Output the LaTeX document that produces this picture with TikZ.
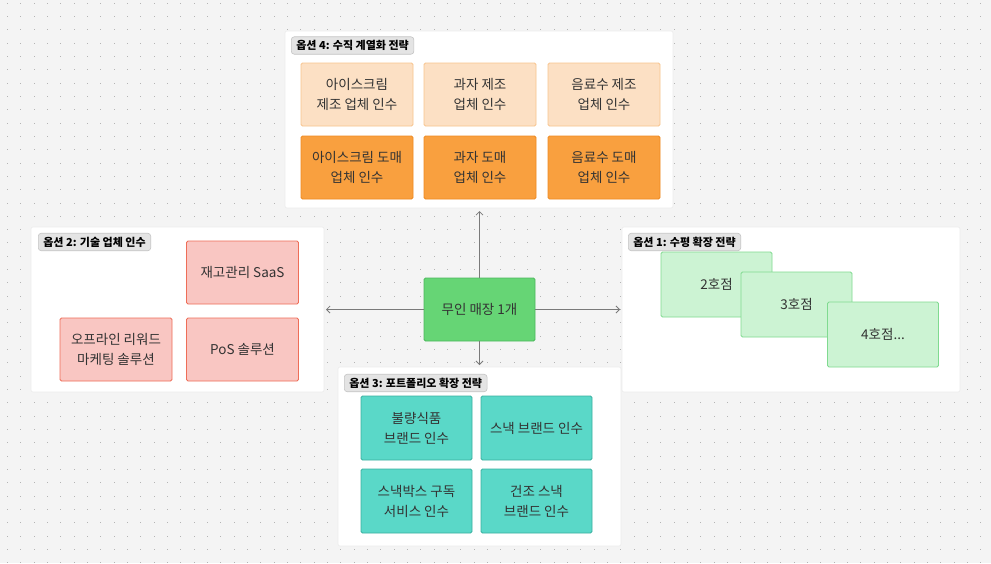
\documentclass[tikz,border=0pt]{standalone}
\usepackage{fontspec}
\setmainfont{Noto Sans CJK KR}
\usetikzlibrary{arrows.meta}
\definecolor{bg}{HTML}{F4F4F4}
\definecolor{dotc}{HTML}{B4B4B4}
\definecolor{panelb}{HTML}{ECECEC}
\definecolor{txt}{HTML}{333333}
\definecolor{chipf}{HTML}{E4E4E4}
\definecolor{chipd}{HTML}{C4C4C4}
\definecolor{lof}{HTML}{FCE0C4}
\definecolor{lod}{HTML}{F8C48E}
\definecolor{dof}{HTML}{F9A03F}
\definecolor{dod}{HTML}{EE8A22}
\definecolor{pkf}{HTML}{F9C6C2}
\definecolor{pkd}{HTML}{EE6E58}
\definecolor{lgf}{HTML}{CCF3D3}
\definecolor{lgd}{HTML}{80DA90}
\definecolor{cgf}{HTML}{66D575}
\definecolor{cgd}{HTML}{4CB85C}
\definecolor{tlf}{HTML}{5AD8C8}
\definecolor{tld}{HTML}{3AB0A0}
\definecolor{arr}{HTML}{7A7A7A}
\tikzset{
  panel/.style={fill=white, draw=panelb, line width=0.6pt, rounded corners=2pt},
  chip/.style={fill=chipf, draw=chipd, line width=0.6pt, rounded corners=3pt, inner xsep=5pt, inner ysep=0pt, minimum height=17.5pt, anchor=west, font=\fontsize{11}{12}\selectfont\bfseries, text=black},
  box/.style={rounded corners=1.5pt, line width=0.8pt, minimum width=112pt, minimum height=63pt, align=center, inner sep=0pt, text=txt, font=\fontsize{13.5}{20}\selectfont},
  lo/.style={box, fill=lof, draw=lod},
  do/.style={box, fill=dof, draw=dod},
  pk/.style={box, fill=pkf, draw=pkd},
  lg/.style={box, fill=lgf, draw=lgd, minimum width=111pt, minimum height=65pt},
  cg/.style={box, fill=cgf, draw=cgd, minimum width=111pt},
  tl/.style={box, fill=tlf, draw=tld, minimum width=111pt, minimum height=64pt},
  conn/.style={draw=arr, line width=0.8pt, -{Straight Barb[length=3.5pt,width=7pt]}}
}
\begin{document}
\begin{tikzpicture}[x=1pt,y=-1pt]
\useasboundingbox (0,0) rectangle (991,563);
\fill[bg] (0,0) rectangle (991,563);
\foreach \i in {0,...,74}{
  \foreach \j in {0,...,42}{
    \fill[dotc] ({7+\i*13.333},{2.5+\j*13.333}) rectangle +(1,1);
  }
}
% panels
\draw[panel] (285,31) rectangle (673,208);
\draw[panel] (31,227) rectangle (324,392);
\draw[panel] (622,227) rectangle (960,392);
\draw[panel] (338,367) rectangle (621,546);
% chips
\node[chip] (c4) at (291,45.5) {옵션 4: 수직 계열화 전략};
\node[chip] (c2) at (38,242) {옵션 2: 기술 업체 인수};
\node[chip] (c1) at (628,242) {옵션 1: 수평 확장 전략};
\node[chip] (c3) at (344,383) {옵션 3: 포트폴리오 확장 전략};
% option 4
\node[lo] (a1) at (357,94.5) {아이스크림\\제조 업체 인수};
\node[lo] (a2) at (480,94.5) {과자 제조\\업체 인수};
\node[lo] (a3) at (604,94.5) {음료수 제조\\업체 인수};
\node[do] (b1) at (357,167.5) {아이스크림 도매\\업체 인수};
\node[do] (b2) at (480,167.5) {과자 도매\\업체 인수};
\node[do] (b3) at (604,167.5) {음료수 도매\\업체 인수};
% option 2
\node[pk] (t1) at (242.5,272.5) {재고관리 SaaS};
\node[pk] (t2) at (116,349.5) {오프라인 리워드\\마케팅 솔루션};
\node[pk] (t3) at (242.5,349.5) {PoS 솔루션};
% option 1
\node[lg] (h2) at (716.5,284.5) {2호점};
\node[lg] (h3) at (796.5,304.5) {3호점};
\node[lg] (h4) at (883,334.5) {4호점...};
% option 3
\node[tl] (p1) at (416.5,428) {불량식품\\브랜드 인수};
\node[tl] (p2) at (536.5,428) {스낵 브랜드 인수};
\node[tl] (p3) at (416.5,501) {스낵박스 구독\\서비스 인수};
\node[tl] (p4) at (536.5,501) {건조 스낵\\브랜드 인수};
% center
\node[cg] (m) at (479.5,309.5) {무인 매장 1개};
\coordinate (eu) at (479.5,211);
\coordinate (el) at (326,309.5);
\coordinate (er) at (620,309.5);
\coordinate (ed) at (479.5,365);
\draw[conn] (m.north) -- (eu);
\draw[conn] (m.west) -- (el);
\draw[conn] (m.east) -- (er);
\draw[conn] (m.south) -- (ed);
\end{tikzpicture}
\end{document}
